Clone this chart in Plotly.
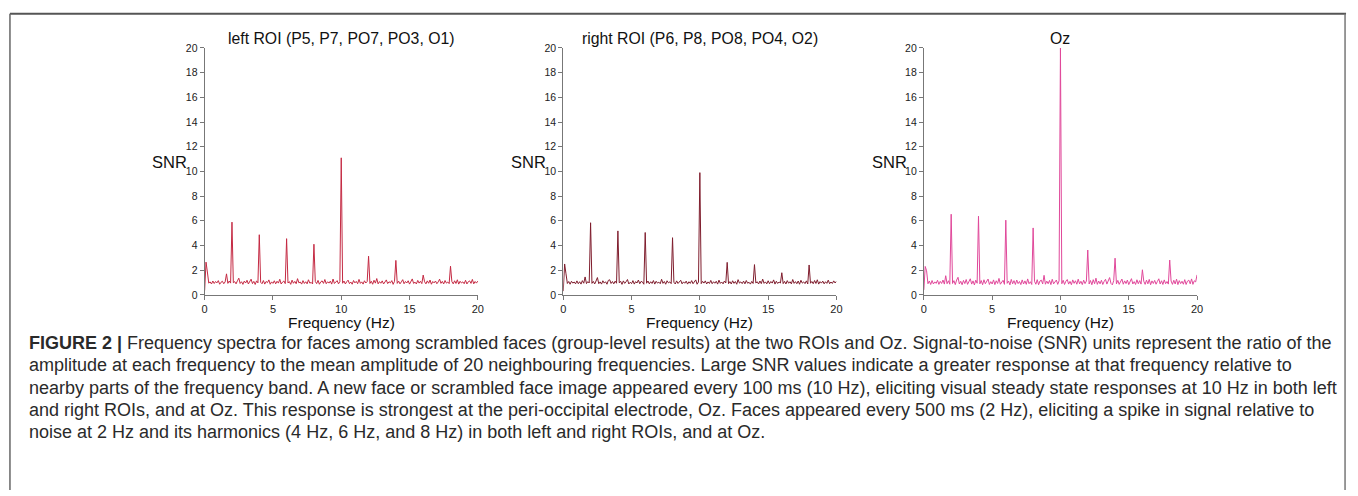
import numpy as np
import plotly.graph_objects as go

W, H = 1358, 496

# frequency bins (0.1 Hz resolution, 0..20 Hz)
freq_step = 0.1
n_bins = 201
freqs = [round(i * freq_step, 1) for i in range(n_bins)]

panel_titles = ["left ROI (P5, P7, PO7, PO3, O1)",
                "right ROI (P6, P8, PO8, PO4, O2)",
                "Oz"]

snr_left = [
    0.35, 2.65, 1.85, 0.95, 1.05, 0.88, 1.12, 0.92, 1.08, 0.97,
    1.15, 0.86, 1.02, 1.10, 0.90, 1.05, 1.70, 0.93, 1.12, 0.95,
    5.89, 0.98, 1.07, 0.89, 1.14, 1.35, 0.92, 1.06, 0.85, 1.11,
    0.96, 1.18, 0.88, 1.04, 1.27, 0.91, 1.09, 0.84, 1.13, 0.97,
    4.87, 1.02, 0.90, 1.16, 0.87, 1.08, 0.99, 1.21, 0.86, 1.05,
    0.93, 1.14, 0.89, 1.10, 0.95, 1.26, 0.88, 1.03, 1.12, 0.91,
    4.55, 0.96, 1.07, 0.85, 1.19, 0.94, 1.09, 0.90, 1.31, 0.97,
    1.04, 0.87, 1.15, 0.92, 1.06, 0.89, 1.22, 0.95, 1.01, 0.88,
    4.10, 1.08, 0.91, 1.17, 0.86, 1.05, 1.13, 0.93, 1.24, 0.90,
    1.06, 0.95, 1.11, 0.87, 1.28, 0.92, 1.03, 1.15, 0.89, 1.07,
    11.10, 0.94, 1.12, 0.88, 1.06, 1.19, 0.91, 1.04, 0.86, 1.16,
    0.97, 1.09, 0.90, 1.25, 0.93, 1.05, 0.87, 1.14, 0.96, 1.08,
    3.13, 0.92, 1.10, 0.86, 1.18, 0.95, 1.32, 0.89, 1.07, 0.94,
    1.13, 0.88, 1.04, 1.21, 0.91, 1.06, 0.97, 1.15, 0.85, 1.09,
    2.79, 0.93, 1.11, 0.89, 1.05, 1.23, 0.90, 1.08, 0.96, 1.14,
    0.87, 1.07, 1.29, 0.92, 1.03, 0.88, 1.17, 0.95, 1.10, 0.91,
    1.60, 1.06, 0.89, 1.13, 0.94, 1.20, 0.86, 1.08, 0.97, 1.12,
    0.90, 1.05, 1.27, 0.93, 1.09, 0.88, 1.16, 0.95, 1.04, 0.91,
    2.32, 1.07, 0.89, 1.14, 0.92, 1.22, 0.87, 1.10, 0.96, 1.05,
    0.90, 1.18, 0.88, 1.06, 1.13, 0.93, 1.25, 0.89, 1.08, 0.95, 1.12,
]

snr_right = [
    0.30, 2.50, 1.70, 0.92, 1.08, 0.86, 1.10, 0.95, 1.04, 0.89,
    1.13, 0.90, 1.06, 0.87, 1.15, 0.94, 1.45, 0.91, 1.07, 0.96,
    5.84, 0.93, 1.09, 0.88, 1.12, 1.40, 0.90, 1.05, 0.87, 1.14,
    0.95, 1.06, 0.86, 1.17, 1.22, 0.92, 1.08, 0.89, 1.11, 0.94,
    5.18, 0.97, 1.10, 0.85, 1.13, 0.93, 1.06, 1.24, 0.88, 1.02,
    0.91, 1.15, 0.87, 1.07, 0.96, 1.20, 0.90, 1.09, 1.04, 0.86,
    5.05, 0.94, 1.12, 0.89, 1.06, 0.92, 1.16, 0.87, 1.10, 0.95,
    1.03, 0.90, 1.26, 0.93, 1.08, 0.86, 1.14, 0.97, 1.05, 0.91,
    4.63, 1.02, 0.88, 1.13, 0.92, 1.07, 1.18, 0.89, 1.05, 0.94,
    1.11, 0.87, 1.06, 0.93, 1.15, 0.90, 1.08, 1.21, 0.86, 1.04,
    9.90, 0.91, 1.09, 0.95, 1.13, 0.88, 1.05, 0.92, 1.17, 0.90,
    1.06, 0.94, 1.10, 0.87, 1.19, 0.93, 1.04, 0.89, 1.12, 0.96,
    2.63, 0.90, 1.07, 0.88, 1.14, 0.93, 1.08, 0.86, 1.23, 0.95,
    1.05, 0.91, 1.11, 0.89, 1.16, 0.94, 1.02, 0.87, 1.09, 0.92,
    2.45, 0.96, 1.06, 0.88, 1.12, 0.91, 1.27, 0.93, 1.05, 0.89,
    1.14, 0.90, 1.08, 0.95, 1.21, 0.87, 1.10, 0.92, 1.04, 0.96,
    1.79, 0.91, 1.09, 0.88, 1.15, 0.94, 1.06, 0.89, 1.24, 0.93,
    1.07, 0.90, 1.12, 0.86, 1.18, 0.95, 1.05, 0.91, 1.13, 0.88,
    2.42, 0.94, 1.08, 0.90, 1.16, 0.92, 1.22, 0.87, 1.07, 0.95,
    1.11, 0.89, 1.06, 0.93, 1.19, 0.90, 1.04, 0.92, 1.13, 0.96, 1.10,
]

snr_oz = [
    0.40, 2.30, 1.95, 0.90, 1.12, 0.84, 1.16, 0.88, 1.05, 0.93,
    1.18, 0.85, 1.09, 0.92, 1.20, 0.87, 1.55, 0.90, 1.14, 0.86,
    6.53, 0.92, 1.15, 0.83, 1.20, 1.42, 0.88, 1.10, 0.82, 1.17,
    0.91, 1.24, 0.85, 1.08, 1.30, 0.87, 1.13, 0.80, 1.19, 0.94,
    6.37, 0.89, 1.16, 0.82, 1.22, 0.90, 1.11, 1.28, 0.84, 1.07,
    0.88, 1.21, 0.83, 1.14, 0.92, 1.33, 0.86, 1.09, 1.18, 0.85,
    6.05, 0.93, 1.12, 0.81, 1.25, 0.89, 1.15, 0.84, 1.20, 0.91,
    1.08, 0.83, 1.21, 0.88, 1.13, 0.85, 1.29, 0.90, 1.06, 0.84,
    5.42, 1.10, 0.86, 1.23, 0.82, 1.12, 1.19, 0.88, 1.58, 0.86,
    1.11, 0.90, 1.17, 0.83, 1.26, 0.89, 1.08, 1.20, 0.85, 1.13,
    20.00, 0.90, 1.18, 0.84, 1.11, 1.24, 0.87, 1.09, 0.82, 1.21,
    0.93, 1.14, 0.86, 1.27, 0.89, 1.10, 0.83, 1.19, 0.91, 1.12,
    3.63, 0.88, 1.16, 0.82, 1.23, 0.90, 1.35, 0.85, 1.12, 0.89,
    1.18, 0.84, 1.09, 1.26, 0.87, 1.11, 1.40, 0.92, 0.81, 1.15,
    2.97, 0.89, 1.17, 0.85, 1.10, 1.28, 0.86, 1.13, 0.91, 1.20,
    0.83, 1.12, 1.31, 0.88, 1.07, 0.84, 1.22, 0.90, 1.15, 0.87,
    2.03, 1.10, 0.85, 1.19, 0.89, 1.25, 0.82, 1.13, 0.92, 1.17,
    0.86, 1.09, 1.30, 0.88, 1.14, 0.84, 1.21, 0.90, 1.08, 0.87,
    2.82, 1.12, 0.85, 1.18, 0.88, 1.27, 0.83, 1.15, 0.91, 1.10,
    0.86, 1.23, 0.84, 1.11, 1.19, 0.89, 1.29, 0.85, 1.14, 1.05, 1.62,
]

series = [snr_left, snr_right, snr_oz]
colors = ["#c42a43", "#7f1d2d", "#e0489a"]

x_ticks = [0, 5, 10, 15, 20]
y_ticks = [0, 2, 4, 6, 8, 10, 12, 14, 16, 18, 20]

caption_lines = [
    "<b>FIGURE 2 |</b> Frequency spectra for faces among scrambled faces (group-level results) at the two ROIs and Oz. Signal-to-noise (SNR) units represent the ratio of the",
    "amplitude at each frequency to the mean amplitude of 20 neighbouring frequencies. Large SNR values indicate a greater response at that frequency relative to",
    "nearby parts of the frequency band. A new face or scrambled face image appeared every 100 ms (10 Hz), eliciting visual steady state responses at 10 Hz in both left",
    "and right ROIs, and at Oz. This response is strongest at the peri-occipital electrode, Oz. Faces appeared every 500 ms (2 Hz), eliciting a spike in signal relative to",
    "noise at 2 Hz and its harmonics (4 Hz, 6 Hz, and 8 Hz) in both left and right ROIs, and at Oz.",
]

# ---- layout geometry (pixels) ----
panel_x = [(203, 478), (564, 839), (927, 1202)]
py_top, py_bot = 43, 296
FONT = "Liberation Sans, Arial, sans-serif"

def px(x):
    return x / W

def py(y):
    return 1 - y / H

fig = go.Figure()
annotations = []
for i, (vals, col) in enumerate(zip(series, colors)):
    k = "" if i == 0 else str(i + 1)
    fig.add_trace(go.Scatter(x=freqs, y=vals, mode="lines",
                             line=dict(color=col, width=1),
                             xaxis="x" + k, yaxis="y" + k,
                             showlegend=False, hoverinfo="x+y"))
    x0, x1 = panel_x[i]
    axis_common = dict(showgrid=False, zeroline=False, showline=True,
                       linecolor="#777", linewidth=1, ticks="outside",
                       ticklen=4, tickcolor="#777", tickwidth=1)
    fig.update_layout(**{
        "xaxis" + k: dict(domain=[px(x0), px(x1)], range=[0, 20],
                          tickvals=x_ticks, anchor="y" + k,
                          tickfont=dict(size=11, color="#222", family=FONT),
                          **axis_common),
        "yaxis" + k: dict(domain=[py(py_bot), py(py_top)], range=[0, 20],
                          tickvals=y_ticks, anchor="x" + k,
                          tickfont=dict(size=10.5, color="#222", family=FONT),
                          **axis_common),
    })
    cx = (x0 + x1) / 2
    annotations.append(dict(x=px(cx), y=py(33), xref="paper", yref="paper",
                            text=panel_titles[i], showarrow=False,
                            xanchor="center", yanchor="middle",
                            font=dict(size=15.8, color="#111", family=FONT)))
    annotations.append(dict(x=px(x0 - 35), y=py(160), xref="paper", yref="paper",
                            text="SNR", showarrow=False,
                            xanchor="center", yanchor="middle",
                            font=dict(size=16.5, color="#111", family=FONT)))
    annotations.append(dict(x=px(cx), y=py(324), xref="paper", yref="paper",
                            text="Frequency (Hz)", showarrow=False,
                            xanchor="center", yanchor="middle",
                            font=dict(size=15.5, color="#111", family=FONT)))

for j, line in enumerate(caption_lines):
    annotations.append(dict(x=px(24), y=py(345 + 23 * j), xref="paper", yref="paper",
                            text=line, showarrow=False,
                            xanchor="left", yanchor="middle",
                            font=dict(size=18, color="#2a2a2a", family=FONT)))

shapes = [
    dict(type="line", xref="paper", yref="paper", x0=px(7), x1=px(1352), y0=py(8), y1=py(8),
         line=dict(color="#555", width=2)),
    dict(type="line", xref="paper", yref="paper", x0=px(7), x1=px(7), y0=py(8), y1=0,
         line=dict(color="#666", width=1.5)),
    dict(type="line", xref="paper", yref="paper", x0=px(1351), x1=px(1351), y0=py(8), y1=0,
         line=dict(color="#777", width=1.5)),
]

fig.update_layout(width=W, height=H, margin=dict(l=0, r=0, t=0, b=0),
                  paper_bgcolor="white", plot_bgcolor="white",
                  annotations=annotations, shapes=shapes)

fig.write_html("out.html", config={"displayModeBar": False},
               post_script="document.body.style.margin='0';")
